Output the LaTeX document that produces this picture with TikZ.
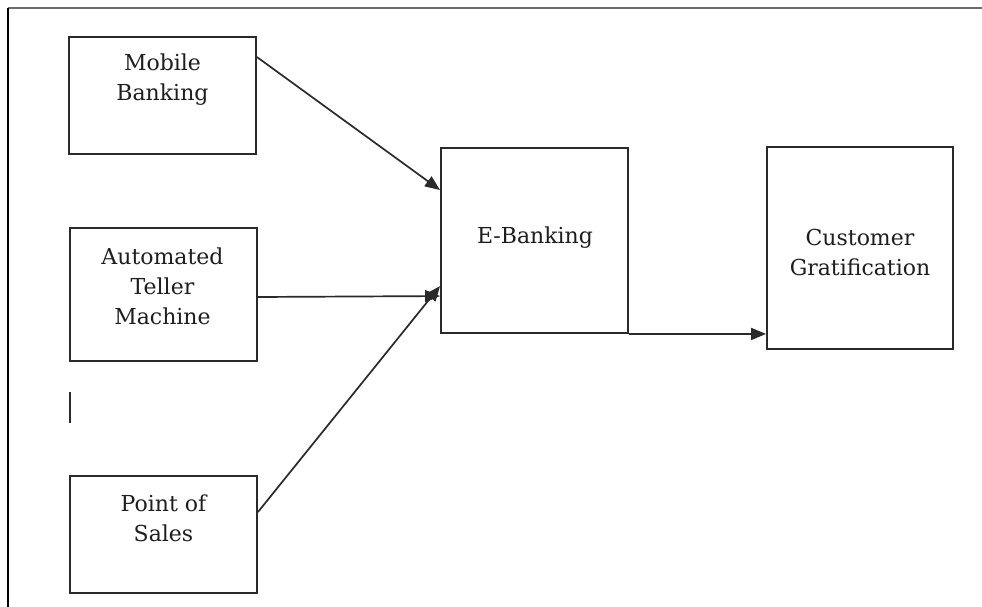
\documentclass[tikz,border=0pt]{standalone}
\usepackage{fontspec}
\setmainfont{DejaVu Serif}
\usetikzlibrary{arrows.meta}
\definecolor{ink}{HTML}{2A2A2A}
\definecolor{txt}{HTML}{1E1E1E}
\begin{document}
\begin{tikzpicture}[x=1pt,y=-1pt,
  box/.style={draw=ink,line width=1.9pt,rectangle,inner sep=0pt},
  lbl/.style={align=center,font=\fontsize{22}{30}\selectfont,text=txt,inner sep=0pt},
  arr/.style={draw=ink,line width=1.7pt,-{Triangle[length=15pt,width=12pt]}}]
\useasboundingbox (0,0) rectangle (982,607);
\fill[white] (0,0) rectangle (982,607);
% frame
\draw[color=gray!85!black,line width=2pt] (8,8.5) -- (982,8.5);
\draw[color=black,line width=1.6pt] (8,8) -- (8,607);
% boxes
\node[box,minimum width=187pt,minimum height=117pt] (mb) at (162.5,95.5) {};
\node[box,minimum width=187pt,minimum height=133pt] (atm) at (163.5,294.5) {};
\node[box,minimum width=187pt,minimum height=117pt] (pos) at (163.5,534.5) {};
\node[box,minimum width=187pt,minimum height=185pt] (eb) at (534.5,240.5) {};
\node[box,minimum width=186pt,minimum height=202pt] (cg) at (860,248) {};
% labels
\node[lbl] (tmb) at (162.5,80) {Mobile\\Banking};
\node[lbl] (tatm) at (162.5,286) {Automated\\Teller\\Machine};
\node[lbl] (tpos) at (163.5,518) {Point of\\Sales};
\node[lbl] (teb) at (535,238) {E-Banking};
\node[lbl] (tcg) at (860,252) {Customer\\Gratification};
% stray mark
\coordinate (m1) at (70,392);
\coordinate (m2) at (70,423);
\draw[ink,line width=1.7pt] (m1) -- (m2);
% connectors
\draw[arr] ([yshift=-21pt]mb.north east) -- ([yshift=-43pt]eb.north west);
\draw[arr] ([yshift=-2.5pt]atm.east) -- ([yshift=-149pt]eb.north west);
\draw[arr] ([yshift=-37pt]pos.north east) -- ([yshift=-139pt]eb.north west);
\draw[arr] (eb.south east) -- ([yshift=16pt]cg.south west);
\end{tikzpicture}
\end{document}
